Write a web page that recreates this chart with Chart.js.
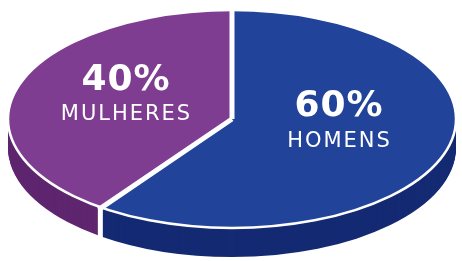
<!DOCTYPE html>
<html>
<head>
<meta charset="utf-8">
<script src="https://cdn.jsdelivr.net/npm/chart.js@4"></script>
<style>
  html, body { margin: 0; padding: 0; background: #fff; }
  #wrap { width: 462px; height: 261px; }
</style>
</head>
<body>
<div id="wrap"><canvas id="pie"></canvas></div>
<script>
const categories = ["HOMENS", "MULHERES"];
const values = [60, 40];
const topColors = ["#22439a", "#7e3d91"];
const sideColors = ["#142a73", "#5f266f"];

// look of the tilted disc
const RX = 224, RY = 109, DEPTH = 29;

const tiltPlugin = {
    id: "tilt",
    beforeDatasetsDraw(chart) {
        const ctx = chart.ctx;
        const arcs = chart.getDatasetMeta(0).data;
        const cx = arcs[0].x, cy = arcs[0].y, R = arcs[0].outerRadius;

        // side of the disc, stacked layers from the bottom up
        for (let d = DEPTH; d >= 1; d--) {
            arcs.forEach((arc, i) => {
                ctx.beginPath();
                ctx.moveTo(cx, cy + d);
                ctx.ellipse(cx, cy + d, RX, RY, 0, arc.startAngle, arc.endAngle);
                ctx.closePath();
                ctx.fillStyle = sideColors[i];
                ctx.fill();
            });
        }
        // white cut between the slices on the side
        ctx.strokeStyle = "#fff";
        ctx.lineWidth = 5;
        arcs.forEach(arc => {
            const a = arc.startAngle;
            if (Math.sin(a) > 0) {
                const x = cx + RX * Math.cos(a), y = cy + RY * Math.sin(a);
                ctx.beginPath();
                ctx.moveTo(x, y);
                ctx.lineTo(x, y + DEPTH + 2);
                ctx.stroke();
            }
        });

        ctx.save();
        ctx.translate(cx, cy);
        ctx.scale(RX / R, RY / R);
        ctx.translate(-cx, -cy);
    },
    afterDatasetsDraw(chart) {
        const ctx = chart.ctx;
        ctx.restore();
        const arcs = chart.getDatasetMeta(0).data;
        const cx = arcs[0].x, cy = arcs[0].y;

        // rim line
        ctx.strokeStyle = "#fff";
        ctx.lineWidth = 2.5;
        ctx.beginPath();
        ctx.ellipse(cx, cy, RX, RY, 0, 0, Math.PI * 2);
        ctx.stroke();

        // gaps between slices
        ctx.lineWidth = 5;
        arcs.forEach(arc => {
            const a = arc.startAngle;
            ctx.beginPath();
            ctx.moveTo(cx, cy);
            ctx.lineTo(cx + (RX + 3) * Math.cos(a), cy + (RY + 3) * Math.sin(a));
            ctx.stroke();
        });

        // labels
        const total = values.reduce((s, v) => s + v, 0);
        ctx.fillStyle = "#fff";
        ctx.textAlign = "center";
        ctx.textBaseline = "middle";
        arcs.forEach((arc, i) => {
            const mid = (arc.startAngle + arc.endAngle) / 2;
            const x = cx + RX * 0.5 * Math.cos(mid);
            const y = cy + RY * 0.39 * Math.sin(mid) - 8;
            ctx.font = "bold 36px 'DejaVu Sans'";
            ctx.letterSpacing = "1px";
            ctx.fillText(Math.round(values[i] / total * 100) + "%", x + 0.5, y - 17);
            ctx.font = "21px 'DejaVu Sans'";
            ctx.letterSpacing = "2px";
            ctx.fillText(categories[i], x + 1, y + 17);
        });
    }
};

new Chart(document.getElementById("pie"), {
    type: "pie",
    data: {
        labels: categories,
        datasets: [{ data: values, backgroundColor: topColors, borderWidth: 0 }]
    },
    options: {
        responsive: true,
        maintainAspectRatio: false,
        animation: false,
        layout: { padding: { top: 5, bottom: 28, left: 2, right: 0 } },
        plugins: { legend: { display: false }, tooltip: { enabled: false } }
    },
    plugins: [tiltPlugin]
});
</script>
</body>
</html>
